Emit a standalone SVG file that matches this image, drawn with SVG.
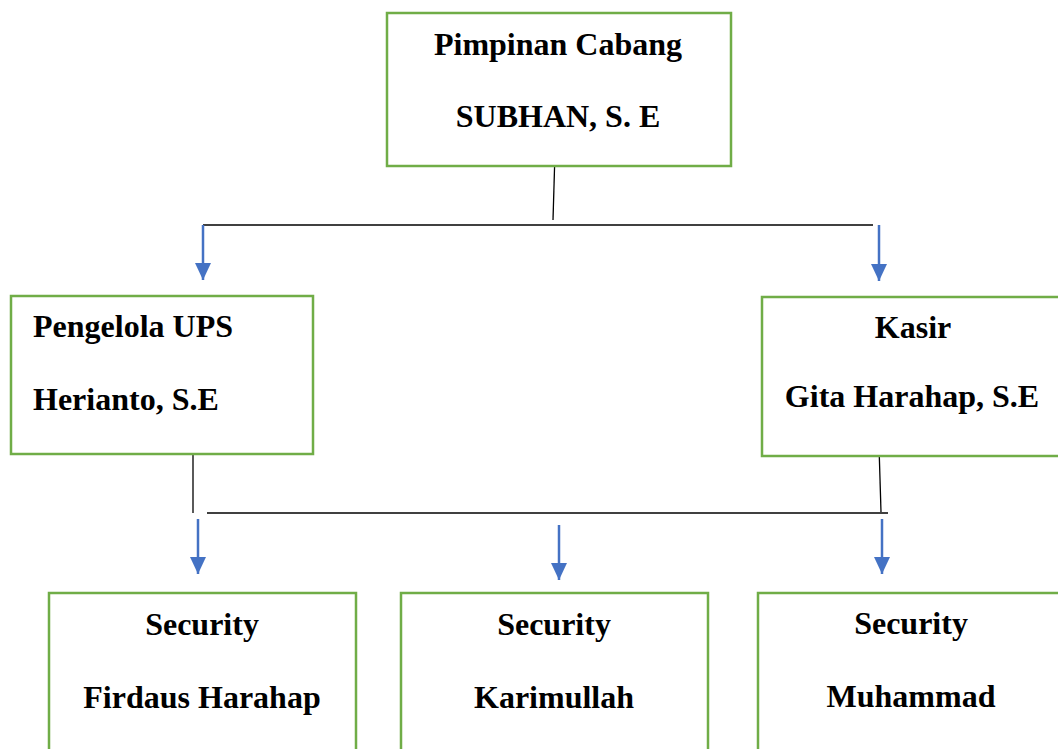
<svg xmlns="http://www.w3.org/2000/svg" width="1058" height="749" viewBox="0 0 1058 749">
<defs>
<style>
.box{fill:#fff;stroke:#70AD47;stroke-width:2.5}
.t{font-family:"Liberation Serif","Times New Roman",serif;font-weight:bold;font-size:32px;fill:#000}
.c{text-anchor:middle}
.ln{stroke:#000;stroke-width:1.3;fill:none}
.arr{stroke:#4472C4;stroke-width:2.5;fill:none;marker-end:url(#ah)}
</style>
<marker id="ah" markerUnits="userSpaceOnUse" markerWidth="18" markerHeight="16" refX="17" refY="8" orient="auto">
<path d="M0,0 L17,8 L0,16 Z" fill="#4472C4"/>
</marker>
</defs>
<rect width="1058" height="749" fill="#fff"/>
<g id="connectors">
<line class="ln" x1="555" y1="152" x2="553" y2="220"/>
<line class="ln" x1="203" y1="225" x2="873" y2="225"/>
<line class="arr" x1="203" y1="225" x2="203" y2="280"/>
<line class="arr" x1="879" y1="225" x2="879" y2="281"/>
<line class="ln" x1="193" y1="446" x2="193" y2="513"/>
<line class="ln" x1="207" y1="513" x2="888" y2="513"/>
<line class="ln" x1="879" y1="446" x2="881" y2="512"/>
<line class="arr" x1="198" y1="519" x2="198" y2="574"/>
<line class="arr" x1="559" y1="525" x2="559" y2="580"/>
<line class="arr" x1="882" y1="519" x2="882" y2="574"/>
</g>
<g id="pimpinan">
<rect class="box" x="387" y="13" width="344" height="153"/>
<text class="t c" x="558" y="55">Pimpinan Cabang</text>
<text class="t c" x="558" y="127">SUBHAN, S. E</text>
</g>
<g id="pengelola">
<rect class="box" x="11" y="296" width="302" height="158"/>
<text class="t" x="33" y="337">Pengelola UPS</text>
<text class="t" x="33" y="410">Herianto, S.E</text>
</g>
<g id="kasir">
<rect class="box" x="762" y="297" width="310" height="159"/>
<text class="t c" x="913" y="338">Kasir</text>
<text class="t c" x="912" y="407">Gita Harahap, S.E</text>
</g>
<g id="security1">
<rect class="box" x="49" y="593" width="307" height="180"/>
<text class="t c" x="202" y="635">Security</text>
<text class="t c" x="202" y="708">Firdaus Harahap</text>
</g>
<g id="security2">
<rect class="box" x="401" y="593" width="307" height="180"/>
<text class="t c" x="554" y="635">Security</text>
<text class="t c" x="554" y="708">Karimullah</text>
</g>
<g id="security3">
<rect class="box" x="758" y="593" width="320" height="180"/>
<text class="t c" x="911" y="634">Security</text>
<text class="t c" x="911" y="707">Muhammad</text>
</g>
</svg>
